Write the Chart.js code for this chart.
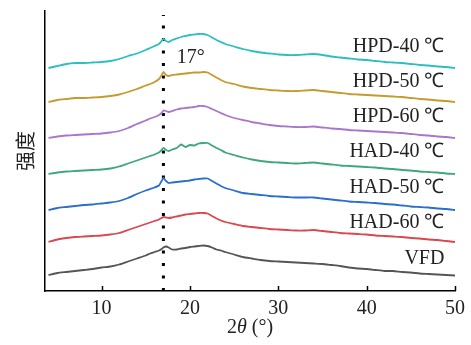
<!DOCTYPE html>
<html>
<head>
<meta charset="utf-8">
<script src="https://cdn.jsdelivr.net/npm/chart.js@4.4.0/dist/chart.umd.min.js"></script>
<style>
  html, body { margin: 0; padding: 0; background: #ffffff; }
  #wrap { width: 471px; height: 345px; }
</style>
</head>
<body>
<div id="wrap"><canvas id="c" width="471" height="345"></canvas></div>
<script>
// ---- data ----
const twoTheta = [4,5,6,7,8,9,10,11,12,13,14,15,15.5,16,16.5,16.8,17,17.3,17.6,18,18.5,19,19.5,20,20.5,21,21.5,22,22.5,23,23.5,24,25,26,27,28,29,30,31,32,33,34,35,36,37,38,39,40,41,42,43,44,45,46,47,48,49,50];

const seriesNames = ["HPD-40 ℃","HPD-50 ℃","HPD-60 ℃","HAD-40 ℃","HAD-50 ℃","HAD-60 ℃","VFD"];

const hpd40 = [223,225,227,228,228,228.5,229,230,232,235,237.5,241,243,245,247,250,252,250,249,251,252.5,254,255,256,256.5,257,257,256,253.5,251,249,247,244.5,242,240,238.5,237.5,236.5,236,236,236.5,237,236,234.5,233.5,232.5,231.5,231,230,229,228.5,228,227,226,225.5,224.5,224,223];
const hpd50 = [189,191,192,193,193,193.5,194,195,196.5,199,202,205.5,207,209,212,216,219,216,215,216,216.5,217,217.5,218,218.5,218.5,219,218.5,216,213.5,211,209,207,204.5,203,202,201,200.5,200,200,200.5,201,200,199,198,197,196.5,196,195.5,195,194.5,194,193,192,191.5,190.5,190,189];
const hpd60 = [153,154.5,155.5,156,156.5,157,157.5,158.5,160,163,167,170.5,172.5,174,176,178,180.5,180,179,180,181.5,182.5,183,183.5,184,185,185,184,182,180,178,176,173,171,169,167.5,166,165,164.5,164,164,164.5,163.5,162.5,162,161,160.5,160,159.5,159,158.5,158,157,156,155.5,154.5,154,153];
const had40 = [117,118.5,119.5,120,120.5,121,121.5,122.5,124.5,127.5,130.5,133.5,135,136.5,138.5,141,143,141,140,141.5,143,146.5,144,146,145.5,147.5,148,148,145.5,143,141,138.5,136,133.5,131.5,130,129,128.5,128,127.5,128,128.5,127.5,126.5,125.5,125,124.5,124,123.5,122.5,122,121,120.5,119.5,119,118.5,117.5,117];
const had50 = [81,83,84,85,86,86.5,87.5,88.5,90,93,97,100.5,102,103.5,105.5,110,113,110,108,108.5,109,109.5,110,110.5,111.5,112,112.5,112.5,110,107.5,105,103,100.5,98,97,96,95,94.5,94,93.5,93.5,93.5,92.5,91.5,90.5,89.5,89,88.5,88,87,86.5,85.5,84.5,84,83.5,82.5,82,81];
const had60 = [49,51.5,53,54,54.5,55,55.5,56.5,58,61,64,67,68.5,70,71.5,73,74,73.5,73,73.5,74.5,75.5,76.5,77,77.5,78,78,77.5,75,72.5,70.5,69,67,65,64,63,62,61.5,61,60.5,60.5,61,60,59,58,57.5,57,56.5,55.5,55,54.5,54,53,52.5,51.5,51,50,49];
const vfd = [16,18,19,20,21,22,23.5,24.5,26.5,29.5,32.5,35.5,37.5,39,40.5,42,43.5,44.5,43.5,41.5,41.5,42.5,43,44,44.5,45,45.5,45,43.5,41.5,40.5,39,36.5,34,32.5,31,30,29.5,29,28.5,28,27.5,27,26,25,23.5,22.5,22,21,20,20,19,18.5,17.5,17,16.5,16,15.5];

const xTickLabels = [10,20,30,40,50];
const markerAngle = 17;        // dotted reference line
const markerLabel = "17°";
const yTitle = "强度";
// ---------------------------------------

const seriesValues = [hpd40, hpd50, hpd60, had40, had50, had60, vfd];
const seriesColors = ["#2dbfbf","#c69a2e","#a776cf","#3ea878","#2a6fcb","#d9474f","#555555"];
// label anchor (data coords) for each series' name, right side
const labelY = [244,209,174,139,103,68,32];

const datasets = seriesValues.map((vals, i) => ({
  label: seriesNames[i],
  data: twoTheta.map((x, k) => ({x: x, y: vals[k]})),
  borderColor: seriesColors[i],
  borderWidth: 1.8,
  pointRadius: 0,
  tension: 0.15,
  fill: false
}));
datasets.push({
  label: "marker",
  data: [{x: markerAngle, y: 0}, {x: markerAngle, y: 276}],
  borderColor: "#000",
  borderWidth: 3,
  borderDash: [3, 9.5],
  borderCapStyle: "butt",
  pointRadius: 0,
  fill: false
});

const SERIF = "'Liberation Serif','Times New Roman',serif";

const decor = {
  id: "decor",
  afterDraw(chart) {
    const ctx = chart.ctx;
    const xs = chart.scales.x, ys = chart.scales.y;
    const bottom = chart.chartArea.bottom;
    ctx.save();
    // inner tick marks
    ctx.strokeStyle = "#000";
    ctx.lineWidth = 1.5;
    xTickLabels.forEach(v => {
      const px = Math.round(xs.getPixelForValue(v)) + 0.5;
      ctx.beginPath();
      ctx.moveTo(px, bottom);
      ctx.lineTo(px, bottom - 5);
      ctx.stroke();
    });
    // series names
    ctx.fillStyle = "#222";
    ctx.font = "20px " + SERIF;
    ctx.textAlign = "right";
    ctx.textBaseline = "middle";
    const rx = xs.getPixelForValue(48.8);
    seriesNames.forEach((n, i) => {
      ctx.fillText(n, rx, ys.getPixelForValue(labelY[i]));
    });
    // 17° label
    ctx.textAlign = "left";
    ctx.fillText(markerLabel, xs.getPixelForValue(18.5), ys.getPixelForValue(233));
    // x axis title: 2θ (°)
    const cx = (chart.chartArea.left + chart.chartArea.right) / 2;
    const cy = 328;
    const parts = [["2", "20px " + SERIF], ["θ", "italic 20px " + SERIF], [" (°)", "20px " + SERIF]];
    let total = 0;
    parts.forEach(p => { ctx.font = p[1]; total += ctx.measureText(p[0]).width; });
    let x = cx - total / 2;
    parts.forEach(p => { ctx.font = p[1]; ctx.fillText(p[0], x, cy); x += ctx.measureText(p[0]).width; });
    ctx.restore();
  }
};

new Chart(document.getElementById("c"), {
  type: "line",
  data: { datasets: datasets },
  options: {
    responsive: false,
    animation: false,
    devicePixelRatio: 1,
    layout: { padding: { top: 11, right: 12, left: 0, bottom: 0 } },
    plugins: { legend: { display: false }, tooltip: { enabled: false } },
    scales: {
      x: {
        type: "linear",
        min: 3.6,
        max: 50,
        afterBuildTicks: s => { s.ticks = xTickLabels.map(v => ({value: v})); },
        afterFit: s => { s.height = 54; },
        grid: { display: false, drawTicks: false },
        border: { display: true, color: "#000", width: 1.5 },
        ticks: { color: "#222", padding: 6, maxRotation: 0, font: { family: SERIF, size: 20 } }
      },
      y: {
        min: 0,
        max: 280,
        afterFit: s => { s.width = 45; },
        grid: { display: false, drawTicks: false },
        border: { display: true, color: "#000", width: 1.5 },
        ticks: { display: false },
        title: { display: true, text: yTitle, color: "#222", padding: { top: 13, bottom: 0 },
                 font: { family: "'Noto Sans CJK SC'", size: 20 } }
      }
    }
  },
  plugins: [decor]
});
</script>
</body>
</html>
